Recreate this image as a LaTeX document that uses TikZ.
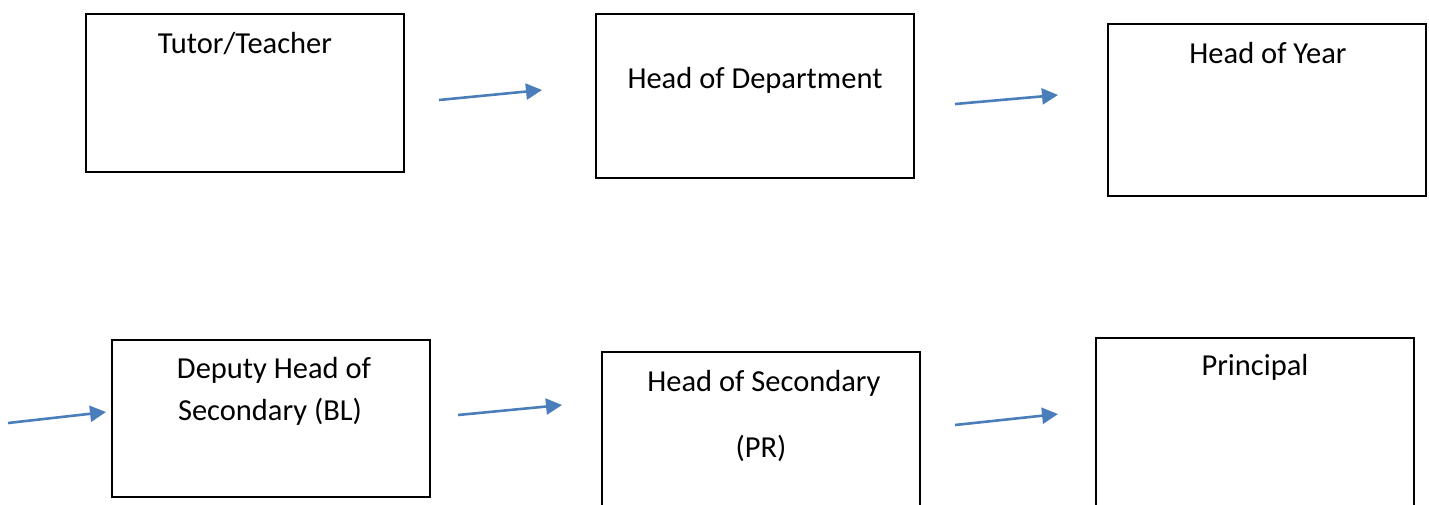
\documentclass[tikz,border=0pt]{standalone}
\usepackage{fontspec}
\setmainfont{Carlito}
\usepackage{tikz}
\usetikzlibrary{arrows.meta}
\definecolor{arrowblue}{HTML}{4A7EBB}

\begin{document}
\begin{tikzpicture}[
  x=1pt, y=-1pt,
  box/.style={
    draw, rectangle, line width=1.8pt,
    inner sep=0pt, minimum width=318pt
  },
  lbl/.style={
    anchor=base, inner sep=0pt,
    font=\fontsize{30.5}{36}\selectfont
  },
  flow/.style={
    -{Triangle[length=16pt, width=16pt]},
    draw=arrowblue, line width=2.6pt
  }
]
  \clip (0,0) rectangle (1429,504);
  % top row
  \node[box, minimum height=158pt] (tutor) at (245,93){};
  \node[box, minimum height=164pt] (hod) at (755,96){};
  \node[box, minimum height=172pt] (hoy) at (1267,110){};
  % bottom row
  \node[box, minimum height=157pt] (deputy) at (271,418.5){};
  \node[box, minimum height=180pt] (hos) at (761,442){};
  \node[box, minimum height=194pt] (principal) at (1255,435){};
  % labels
  \node[lbl] (tutorTxt) at (245,53){Tutor/Teacher};
  \node[lbl] (hodTxt) at (755,88){Head of Department};
  \node[lbl] (hoyTxt) at (1268,63){Head of Year};
  \node[lbl] (deputyTxtA) at (274,378){Deputy Head of};
  \node[lbl] (deputyTxtB) at (270,420){Secondary (BL)};
  \node[lbl] (hosTxtA) at (764,391){Head of Secondary};
  \node[lbl] (hosTxtB) at (761,457){(PR)};
  \node[lbl] (principalTxt) at (1255,375){Principal};
  % arrows
  \foreach \n/\xa/\ya/\xb/\yb in {
    a/439/100/542/90, b/955/104/1058/95, c/8/423/106/412,
    d/458/415/562/405, e/955/425/1058/414} {
    \coordinate (\n0) at (\xa,\ya);
    \coordinate (\n1) at (\xb,\yb);
    \draw[flow] (\n0)--(\n1);
  }
\end{tikzpicture}
\end{document}
